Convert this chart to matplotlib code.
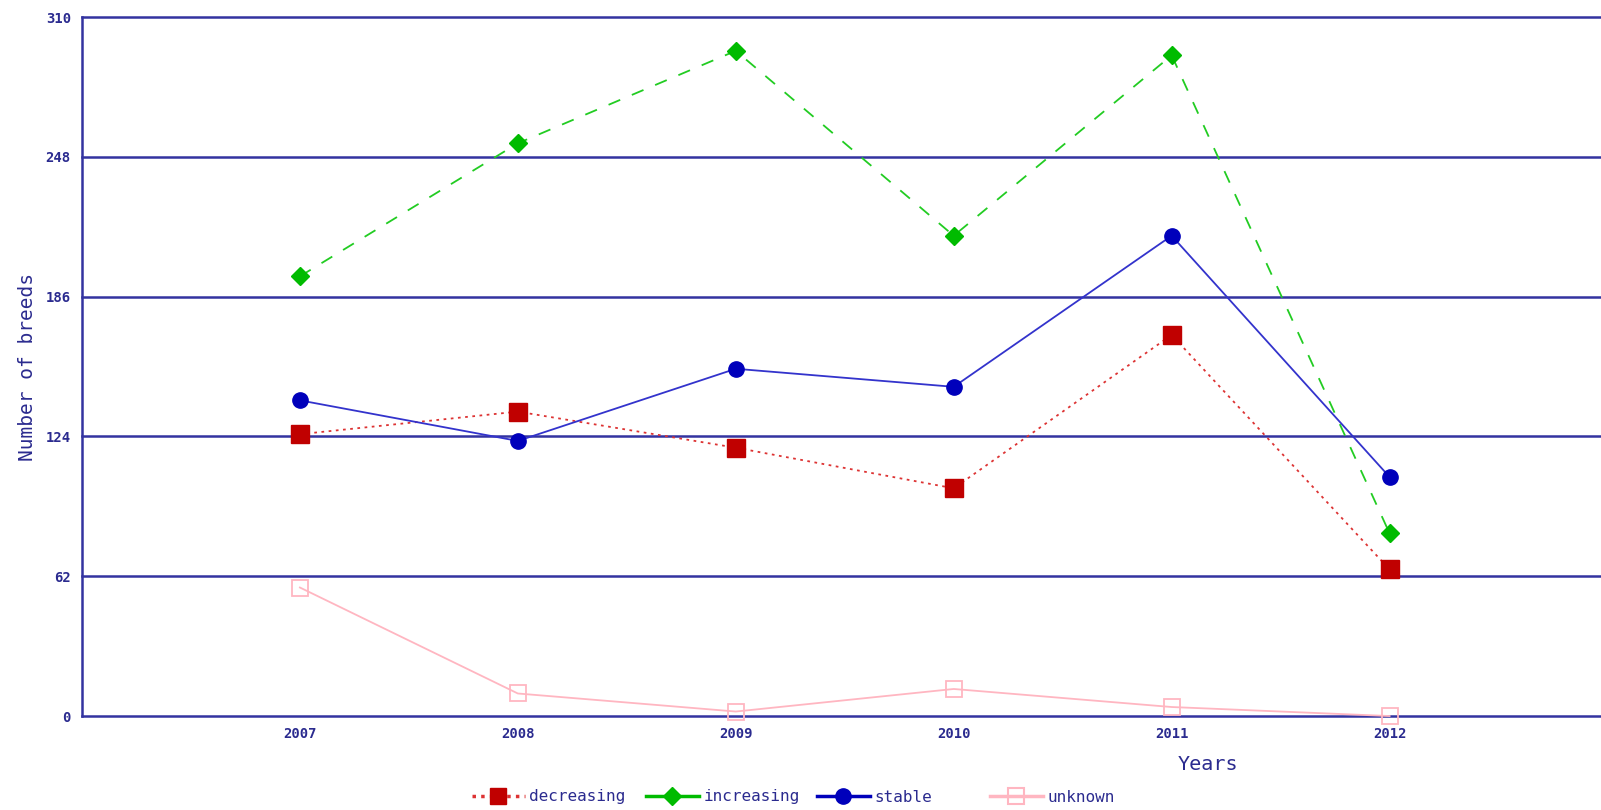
import matplotlib
matplotlib.use("Agg")
import matplotlib.pyplot as plt
from matplotlib.lines import Line2D

years = [2007, 2008, 2009, 2010, 2011, 2012]
decreasing = [125, 135, 119, 101, 169, 65]
increasing = [195, 254, 295, 213, 293, 81]
stable = [140, 122, 154, 146, 213, 106]
unknown = [57, 10, 2, 12, 4, 0]
y_ticks = [0, 62, 124, 186, 248, 310]
labels = ["decreasing", "increasing", "stable", "unknown"]

navy = "#2b2b8f"
fig = plt.figure(figsize=(16.01, 8.10), dpi=100)
ax = fig.add_axes([0.0512, 0.116, 0.9488, 0.863])

ax.set_xlim(2006, 2012.97)
ax.set_ylim(0, 310)
for t in y_ticks:
    ax.axhline(t, color="#3333a0", lw=1.8, zorder=1, clip_on=False)

ax.plot(years, unknown, color="#ffb6c1", lw=1.3, marker="s", ms=11,
        mfc="none", mec="#ffb6c1", mew=1.3, zorder=3, clip_on=False)
ax.plot(years, decreasing, color="#dd3333", lw=1.3, ls=(0, (1.5, 2.5)),
        marker="s", ms=13, mfc="#c00000", mec="#c00000", zorder=4)
ax.plot(years, increasing, color="#22cc22", lw=1.3, ls=(0, (7, 7)),
        marker="D", ms=9, mfc="#00bb00", mec="#00bb00", zorder=4)
ax.plot(years, stable, color="#3333cc", lw=1.3,
        marker="o", ms=11, mfc="#0000bb", mec="#0000bb", zorder=5)

for s in ["top", "right", "bottom"]:
    ax.spines[s].set_visible(False)
ax.spines["left"].set_color("#3333a0")
ax.spines["left"].set_linewidth(1.8)

ax.set_xticks(years)
ax.set_xticklabels([str(y) for y in years])
ax.set_yticks(y_ticks)
ax.tick_params(length=0, colors=navy, labelsize=10, pad=8)
for lab in ax.get_xticklabels() + ax.get_yticklabels():
    lab.set_fontfamily("DejaVu Sans Mono")
    lab.set_fontweight("bold")

ax.set_ylabel("Number of breeds", color=navy, fontsize=14,
              fontfamily="DejaVu Sans Mono", labelpad=6)
fig.text(1208 / 1601, 1 - 764 / 810, "Years", color=navy, fontsize=14.5,
         fontfamily="DejaVu Sans Mono", ha="center", va="center")

handles = [
    Line2D([], [], color="#dd3333", lw=2.5, ls=(0, (1, 1.5)), marker="s", ms=12,
           mfc="#c00000", mec="#c00000"),
    Line2D([], [], color="#00bb00", lw=2.5, marker="D", ms=9,
           mfc="#00bb00", mec="#00bb00"),
    Line2D([], [], color="#0000bb", lw=2.5, marker="o", ms=11,
           mfc="#0000bb", mec="#0000bb"),
    Line2D([], [], color="#ffb6c1", lw=2.5, marker="s", ms=11,
           mfc="none", mec="#ffb6c1", mew=1.5),
]
x_starts = [472, 646, 817, 990]
for h, lab, xs in zip(handles, labels, x_starts):
    leg = fig.legend([h], [lab], loc="center left",
                     bbox_to_anchor=(xs / 1601, 1 - 797 / 810), frameon=False,
                     prop={"family": "DejaVu Sans Mono", "size": 11.5},
                     handlelength=3.3, handletextpad=0.3, borderpad=0,
                     borderaxespad=0)
    for t in leg.get_texts():
        t.set_color(navy)

fig.savefig("out.png", dpi=100)
